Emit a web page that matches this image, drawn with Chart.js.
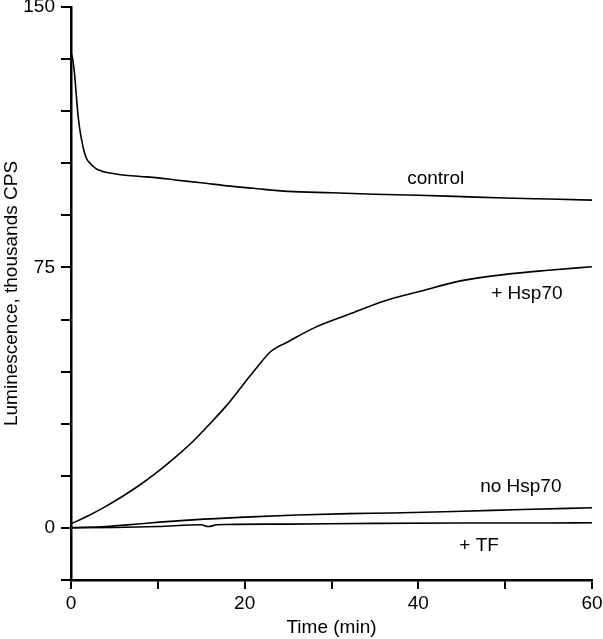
<!DOCTYPE html>
<html>
<head>
<meta charset="utf-8">
<script src="https://cdn.jsdelivr.net/npm/chart.js@4.4.1/dist/chart.umd.min.js"></script>
<style>
  html, body { margin: 0; padding: 0; background: #fff; }
  #wrap { width: 603px; height: 639px; }
</style>
</head>
<body>
<div id="wrap"><canvas id="grafico"></canvas></div>
<script>
// datos (tiempo en min, luminiscencia en miles de CPS)
const tiempoControl = [0, 0.2, 0.4, 0.6, 0.8, 1.0, 1.2, 1.5, 1.8, 2.2, 2.6, 3.0, 3.5, 4.0, 5, 6, 8, 10, 12, 15, 18, 21, 25, 30, 35, 40, 45, 50, 55, 60];
const valoresControl = [137, 135, 131, 125, 119, 115, 112, 108.5, 106.3, 105, 104, 103.3, 102.8, 102.4, 102, 101.6, 101.2, 100.8, 100.2, 99.4, 98.5, 97.8, 96.9, 96.5, 96.1, 95.8, 95.4, 95.0, 94.7, 94.4];

const tiempoHsp70 = [0, 2, 4, 6, 8, 10, 12, 14, 16, 18, 20, 21.5, 23, 25, 28, 32, 36, 40, 45, 50, 55, 60];
const valoresHsp70 = [1.2, 3.5, 6.2, 9.2, 12.5, 16.2, 20.3, 24.8, 30, 35.5, 41.8, 46.5, 50.8, 53.6, 57.6, 61.5, 65.3, 68, 71.2, 73, 74.2, 75.2];

const tiempoNoHsp70 = [0, 4, 8, 14, 20, 26, 32, 37, 45, 52, 60];
const valoresNoHsp70 = [0.1, 0.4, 1.2, 2.3, 3.1, 3.7, 4.1, 4.3, 4.8, 5.3, 5.8];

const tiempoTF = [0, 5, 10, 15, 15.8, 16.8, 18, 25, 35, 45, 55, 60];
const valoresTF = [0, 0.1, 0.4, 0.9, 0.4, 0.9, 1.0, 1.1, 1.3, 1.4, 1.4, 1.5];

const ticksY = [0, 75, 150];
const ticksX = [0, 20, 40, 60];

const etiquetas = [
    { texto: 'control', x: 42, y: 100.5 },
    { texto: '+ Hsp70', x: 52.5, y: 67.5 },
    { texto: 'no Hsp70', x: 51.8, y: 11.8 },
    { texto: '+ TF', x: 47, y: -5 }
];

const fuente = "Arial, 'Liberation Sans', sans-serif";
const tamano = 19;

const puntos = (t, v) => t.map((x, i) => ({ x: x, y: v[i] }));

const serie = (nombre, t, v) => ({
    label: nombre,
    data: puntos(t, v),
    borderColor: '#000',
    borderWidth: 1.6,
    pointRadius: 0,
    fill: false,
    cubicInterpolationMode: 'monotone'
});

const pluginEtiquetas = {
    id: 'etiquetas',
    afterDatasetsDraw(chart) {
        const ctx = chart.ctx;
        const sx = chart.scales.x, sy = chart.scales.y;
        ctx.save();
        ctx.fillStyle = '#000';
        ctx.font = tamano + 'px ' + fuente;
        ctx.textAlign = 'center';
        ctx.textBaseline = 'middle';
        etiquetas.forEach(e => {
            ctx.fillText(e.texto, sx.getPixelForValue(e.x), sy.getPixelForValue(e.y));
        });
        ctx.restore();
    }
};

const pluginFondo = {
    id: 'fondo',
    beforeDraw(chart) {
        const ctx = chart.ctx;
        ctx.save();
        ctx.fillStyle = '#fff';
        ctx.fillRect(0, 0, chart.width, chart.height);
        ctx.restore();
    }
};

new Chart(document.getElementById('grafico'), {
    type: 'line',
    data: {
        datasets: [
            serie('control', tiempoControl, valoresControl),
            serie('+ Hsp70', tiempoHsp70, valoresHsp70),
            serie('no Hsp70', tiempoNoHsp70, valoresNoHsp70),
            serie('+ TF', tiempoTF, valoresTF)
        ]
    },
    options: {
        responsive: true,
        maintainAspectRatio: false,
        animation: false,
        layout: { padding: { top: 7, right: 11, bottom: 0, left: 0 } },
        plugins: {
            legend: { display: false },
            tooltip: { enabled: false }
        },
        scales: {
            x: {
                type: 'linear',
                min: 0,
                max: 60,
                border: { display: true, color: '#000', width: 2.5 },
                grid: { drawOnChartArea: false, drawTicks: true, tickLength: 9, color: '#000', lineWidth: 2 },
                ticks: {
                    stepSize: 10,
                    color: '#000',
                    padding: 3,
                    maxRotation: 0,
                    font: { family: fuente, size: tamano },
                    callback: v => ticksX.includes(v) ? v : ''
                },
                title: {
                    display: true,
                    text: 'Time (min)',
                    color: '#000',
                    padding: { top: 0, bottom: 0 },
                    font: { family: fuente, size: tamano }
                },
                afterFit: s => { s.height = 59; s.paddingLeft = 0; s.paddingRight = 0; }
            },
            y: {
                min: -15,
                max: 150,
                border: { display: true, color: '#000', width: 2.5 },
                grid: { drawOnChartArea: false, drawTicks: true, tickLength: 10, color: '#000', lineWidth: 2 },
                ticks: {
                    stepSize: 15,
                    color: '#000',
                    padding: 6,
                    font: { family: fuente, size: tamano },
                    callback: v => ticksY.includes(v) ? v : ''
                },
                title: {
                    display: true,
                    text: 'Luminescence, thousands CPS',
                    color: '#000',
                    padding: { top: 0, bottom: 0 },
                    font: { family: fuente, size: tamano }
                },
                afterFit: s => { s.width = 71; s.paddingTop = 0; s.paddingBottom = 0; }
            }
        }
    },
    plugins: [pluginFondo, pluginEtiquetas]
});
</script>
</body>
</html>
